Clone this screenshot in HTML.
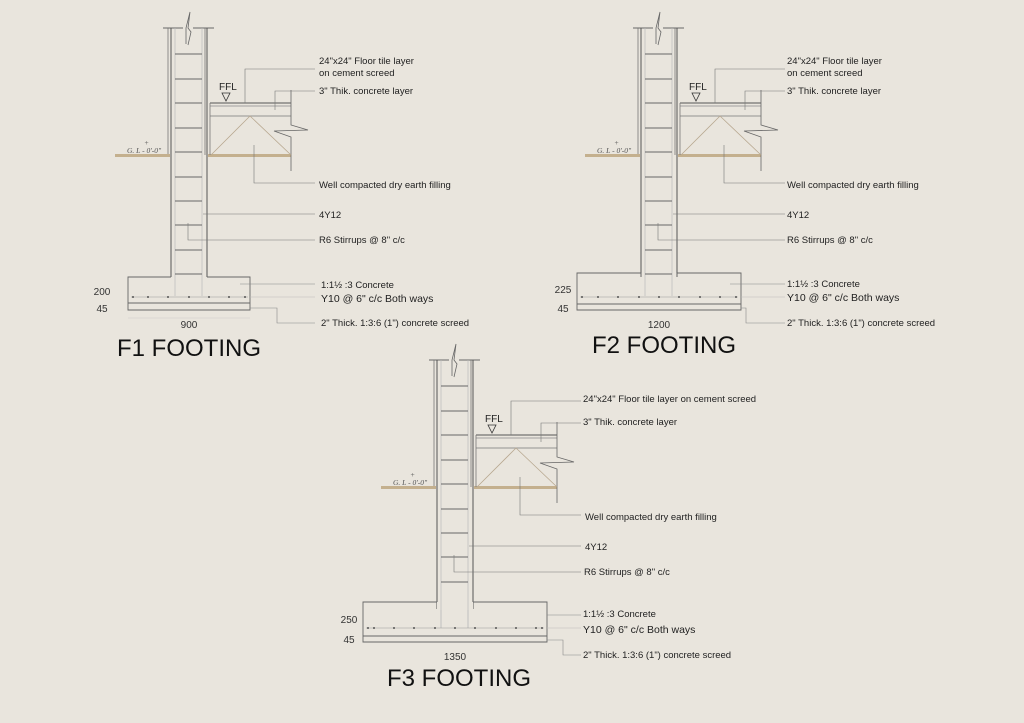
<!DOCTYPE html>
<html><head><meta charset="utf-8"><style>
html,body{margin:0;padding:0;background:#e9e5dd;}
svg{display:block;}
text{font-family:"Liberation Sans",sans-serif;fill:#222;}
.l{font-size:9.5px;}
.d{font-size:10px;fill:#333;}
.t{font-size:24px;fill:#111;}
.gl{font-family:"Liberation Serif",serif;font-style:italic;font-size:7.5px;fill:#555;}
</style></head><body>
<svg width="1024" height="723" viewBox="0 0 1024 723" xmlns="http://www.w3.org/2000/svg">
<rect width="1024" height="723" fill="#e9e5dd"/>
<defs>
<g id="upper">
  <!-- column (relative to F1) -->
  <line x1="163" y1="28" x2="183" y2="28" stroke="#666" stroke-width="1"/>
  <line x1="193" y1="28" x2="214" y2="28" stroke="#666" stroke-width="1"/>
  <polyline points="186,44 186,28 190,12 188,28 191,32 188,45" fill="none" stroke="#666" stroke-width="0.8"/>
  <line x1="168" y1="28" x2="168" y2="155" stroke="#777" stroke-width="0.8"/>
  <line x1="205" y1="28" x2="205" y2="155" stroke="#777" stroke-width="0.8"/>
  <line x1="171" y1="28" x2="171" y2="277" stroke="#555" stroke-width="1"/>
  <line x1="207" y1="28" x2="207" y2="277" stroke="#555" stroke-width="1"/>
  <line x1="175" y1="28" x2="175" y2="296" stroke="#bbb" stroke-width="0.7"/>
  <line x1="202" y1="28" x2="202" y2="296" stroke="#bbb" stroke-width="0.7"/>
  <g stroke="#666" stroke-width="0.9">
    <line x1="175" y1="54" x2="202" y2="54"/><line x1="175" y1="79" x2="202" y2="79"/>
    <line x1="175" y1="103" x2="202" y2="103"/><line x1="175" y1="128" x2="202" y2="128"/>
    <line x1="175" y1="152" x2="202" y2="152"/><line x1="175" y1="177" x2="202" y2="177"/>
    <line x1="175" y1="201" x2="202" y2="201"/><line x1="175" y1="225" x2="202" y2="225"/>
    <line x1="175" y1="250" x2="202" y2="250"/><line x1="175" y1="274" x2="202" y2="274"/>
  </g>
  <!-- GL -->
  <rect x="115" y="154" width="55" height="3" fill="#c4b08e"/>
  <rect x="208" y="154" width="83" height="3" fill="#c4b08e"/>
  <text x="127" y="153" class="gl">G. L - 0'-0"</text>
  <text x="144" y="145" class="gl">+</text>
  <!-- slab -->
  <line x1="210" y1="103" x2="291" y2="103" stroke="#555" stroke-width="1"/>
  <line x1="210" y1="106" x2="291" y2="106" stroke="#888" stroke-width="0.7"/>
  <line x1="210" y1="116" x2="291" y2="116" stroke="#777" stroke-width="0.8"/>
  <line x1="210" y1="103" x2="210" y2="155" stroke="#777" stroke-width="0.8"/>
  <polyline points="291,90 291,125 308,130 274,131 291,137 291,171" fill="none" stroke="#666" stroke-width="0.8"/>
  <polyline points="211,155 250,116 291,155" fill="none" stroke="#b8a890" stroke-width="0.8"/>
  <!-- FFL -->
  <text x="219" y="90" class="l" style="font-size:10px">FFL</text>
  <polygon points="222,93 230,93 226,101" fill="none" stroke="#333" stroke-width="0.8"/>
  <!-- leaders -->
  <g fill="none" stroke="#777" stroke-width="0.6">
    <polyline points="245,103 245,69 315,69"/>
    <polyline points="275,110 275,91 315,91"/>
    <polyline points="254,145 254,183 315,183"/>
    <polyline points="203,214 315,214"/>
    <polyline points="188,223 188,240 315,240"/>
  </g>
</g>
</defs>

<!-- F1 -->
<use href="#upper"/>
<g fill="none" stroke="#666" stroke-width="0.9">
  <polyline points="171,277 128,277 128,310 250,310 250,277 207,277"/>
  <line x1="128" y1="303" x2="250" y2="303"/>
  <line x1="131" y1="297" x2="248" y2="297" stroke="#999" stroke-width="0.6"/>
  <polyline points="240,284 315,284" stroke="#888" stroke-width="0.6"/>
  <polyline points="250,297 315,297" stroke="#bbb" stroke-width="0.6"/>
  <polyline points="250,308 277,308 277,323 315,323" stroke="#888" stroke-width="0.6"/>
  <line x1="128" y1="318" x2="250" y2="318" stroke="#ccc" stroke-width="0.6"/>
</g>
<g fill="#555"><circle cx="133" cy="297" r="1"/><circle cx="148" cy="297" r="1"/><circle cx="168" cy="297" r="1"/><circle cx="189" cy="297" r="1"/><circle cx="209" cy="297" r="1"/><circle cx="229" cy="297" r="1"/><circle cx="245" cy="297" r="1"/></g>
<text x="319" y="64" class="l">24"x24" Floor tile layer</text>
<text x="319" y="76" class="l">on cement screed</text>
<text x="319" y="94" class="l">3" Thik. concrete layer</text>
<text x="319" y="188" class="l">Well compacted dry earth filling</text>
<text x="319" y="218" class="l">4Y12</text>
<text x="319" y="243" class="l">R6 Stirrups @ 8" c/c</text>
<text x="321" y="288" class="l">1:1½ :3 Concrete</text>
<text x="321" y="302" class="l" style="font-size:10.5px">Y10 @ 6" c/c Both ways</text>
<text x="321" y="326" class="l">2" Thick. 1:3:6 (1") concrete screed</text>
<text x="102" y="295" class="d" text-anchor="middle">200</text>
<text x="102" y="312" class="d" text-anchor="middle">45</text>
<text x="189" y="328" class="d" text-anchor="middle">900</text>
<text x="117" y="356" class="t">F1 FOOTING</text>

<!-- F2 -->
<g transform="translate(470,0)"><use href="#upper"/></g>
<g fill="none" stroke="#666" stroke-width="0.9">
  <polyline points="641,273 577,273 577,310 741,310 741,273 677,273"/>
  <line x1="641" y1="273" x2="641" y2="277"/><line x1="677" y1="273" x2="677" y2="277"/>
  <line x1="577" y1="304" x2="741" y2="304"/>
  <line x1="580" y1="297" x2="738" y2="297" stroke="#999" stroke-width="0.6"/>
  <polyline points="730,284 785,284" stroke="#888" stroke-width="0.6"/>
  <polyline points="741,297 785,297" stroke="#bbb" stroke-width="0.6"/>
  <polyline points="741,308 746,308 746,323 785,323" stroke="#888" stroke-width="0.6"/>
</g>
<g fill="#555"><circle cx="582" cy="297" r="1"/><circle cx="598" cy="297" r="1"/><circle cx="618" cy="297" r="1"/><circle cx="639" cy="297" r="1"/><circle cx="659" cy="297" r="1"/><circle cx="679" cy="297" r="1"/><circle cx="700" cy="297" r="1"/><circle cx="720" cy="297" r="1"/><circle cx="736" cy="297" r="1"/></g>
<text x="787" y="64" class="l">24"x24" Floor tile layer</text>
<text x="787" y="76" class="l">on cement screed</text>
<text x="787" y="94" class="l">3" Thik. concrete layer</text>
<text x="787" y="188" class="l">Well compacted dry earth filling</text>
<text x="787" y="218" class="l">4Y12</text>
<text x="787" y="243" class="l">R6 Stirrups @ 8" c/c</text>
<text x="787" y="287" class="l">1:1½ :3 Concrete</text>
<text x="787" y="301" class="l" style="font-size:10.5px">Y10 @ 6" c/c Both ways</text>
<text x="787" y="326" class="l">2" Thick. 1:3:6 (1") concrete screed</text>
<text x="563" y="293" class="d" text-anchor="middle">225</text>
<text x="563" y="312" class="d" text-anchor="middle">45</text>
<text x="659" y="328" class="d" text-anchor="middle">1200</text>
<text x="592" y="353" class="t">F2 FOOTING</text>

<!-- F3 -->
<g transform="translate(266,332)"><use href="#upper"/></g>
<rect x="437" y="600" width="36" height="10" fill="#e9e5dd"/>
<g fill="none" stroke="#555" stroke-width="1">
  <line x1="437" y1="600" x2="437" y2="602"/>
  <line x1="441" y1="600" x2="441" y2="628" stroke="#bbb" stroke-width="0.7"/>
  <line x1="468" y1="600" x2="468" y2="628" stroke="#bbb" stroke-width="0.7"/>
  <line x1="473" y1="600" x2="473" y2="602"/>
</g>
<g fill="none" stroke="#666" stroke-width="0.9">
  <polyline points="437,602 363,602 363,642 547,642 547,602 473,602"/>
  <line x1="363" y1="636" x2="547" y2="636"/>
  <line x1="366" y1="628" x2="544" y2="628" stroke="#999" stroke-width="0.6"/>
  <polyline points="547,615 581,615" stroke="#888" stroke-width="0.6"/>
  <polyline points="547,628 581,628" stroke="#bbb" stroke-width="0.6"/>
  <polyline points="547,640 563,640 563,655 581,655" stroke="#888" stroke-width="0.6"/>
</g>
<g fill="#555"><circle cx="368" cy="628" r="1"/><circle cx="374" cy="628" r="1"/><circle cx="394" cy="628" r="1"/><circle cx="414" cy="628" r="1"/><circle cx="435" cy="628" r="1"/><circle cx="455" cy="628" r="1"/><circle cx="475" cy="628" r="1"/><circle cx="496" cy="628" r="1"/><circle cx="516" cy="628" r="1"/><circle cx="536" cy="628" r="1"/><circle cx="542" cy="628" r="1"/></g>
<text x="583" y="402" class="l">24"x24" Floor tile layer on cement screed</text>
<text x="583" y="425" class="l">3" Thik. concrete layer</text>
<text x="585" y="520" class="l">Well compacted dry earth filling</text>
<text x="585" y="550" class="l">4Y12</text>
<text x="584" y="575" class="l">R6 Stirrups @ 8" c/c</text>
<text x="583" y="617" class="l">1:1½ :3 Concrete</text>
<text x="583" y="633" class="l" style="font-size:10.5px">Y10 @ 6" c/c Both ways</text>
<text x="583" y="658" class="l">2" Thick. 1:3:6 (1") concrete screed</text>
<text x="349" y="623" class="d" text-anchor="middle">250</text>
<text x="349" y="643" class="d" text-anchor="middle">45</text>
<text x="455" y="660" class="d" text-anchor="middle">1350</text>
<text x="387" y="686" class="t">F3 FOOTING</text>
</svg>
</body></html>
